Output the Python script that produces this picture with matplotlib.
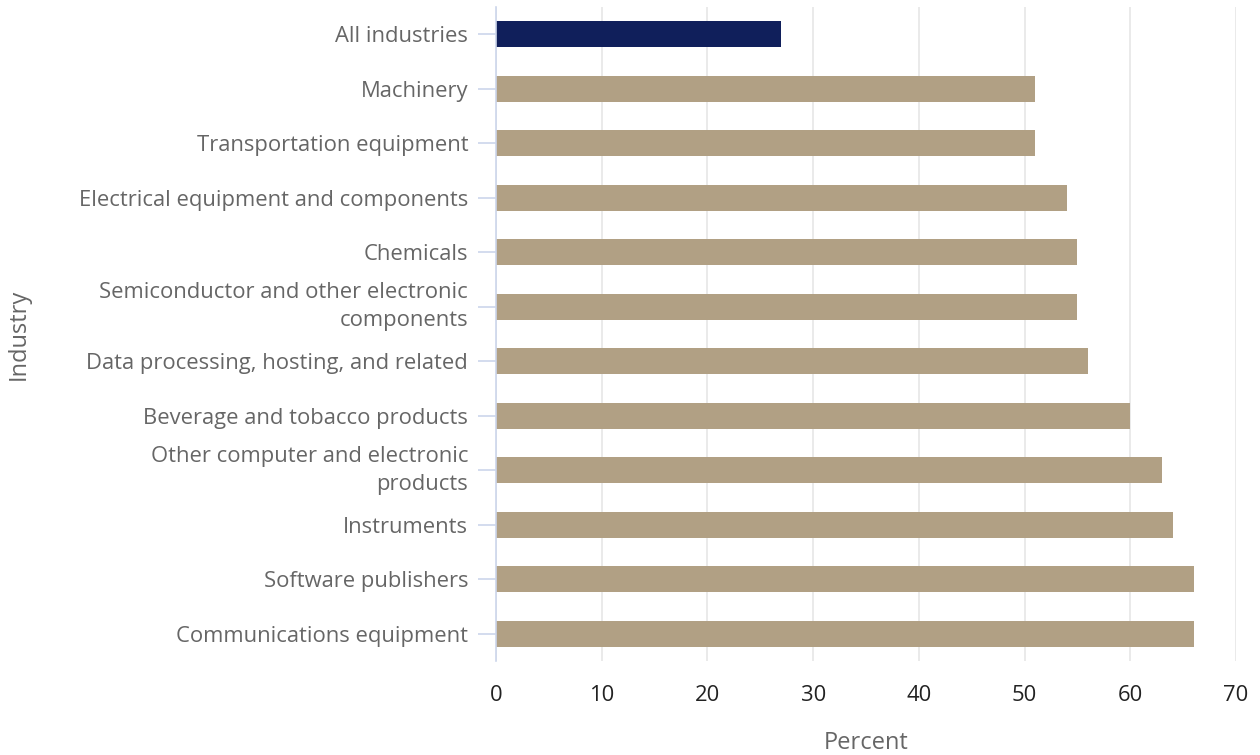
import matplotlib
matplotlib.use("Agg")
import matplotlib.pyplot as plt

plt.rcParams['font.family'] = ['Open Sans', 'DejaVu Sans']

categories = [
    "All industries",
    "Machinery",
    "Transportation equipment",
    "Electrical equipment and components",
    "Chemicals",
    "Semiconductor and other electronic\ncomponents",
    "Data processing, hosting, and related",
    "Beverage and tobacco products",
    "Other computer and electronic\nproducts",
    "Instruments",
    "Software publishers",
    "Communications equipment",
]
values = [27, 51, 51, 54, 55, 55, 56, 60, 63, 64, 66, 66]
colors = ["#101f5b"] + ["#b1a084"] * (len(values) - 1)
x_ticks = [0, 10, 20, 30, 40, 50, 60, 70]

fig = plt.figure(figsize=(12.6, 7.55), dpi=100)
ax = fig.add_axes([0.3936, 0.1245, 0.5874, 0.8662])

ypos = list(range(len(categories)))
ax.barh(ypos, values, height=0.48, color=colors, zorder=3)
ax.set_ylim(len(categories) - 0.5, -0.5)
ax.set_xlim(0, 70)
ax.set_yticks(ypos)
ax.set_yticklabels(categories, fontsize=15.8, color="#666666", ha="right",
                   linespacing=1.42)
for lbl in ax.get_yticklabels():
    if "\n" in lbl.get_text():
        lbl.set_verticalalignment("center")
ax.set_xticks(x_ticks)
ax.set_xticklabels([str(t) for t in x_ticks], fontsize=15.8, color="#222222")

ax.tick_params(axis="y", length=13, width=1.2, color="#ccd6eb", pad=7)
ax.tick_params(axis="x", length=0, pad=17)

ax.grid(axis="x", color="#e6e6e6", linewidth=1.2, zorder=0)
ax.grid(axis="y", visible=False)
for s in ["top", "right", "bottom"]:
    ax.spines[s].set_visible(False)
ax.spines["left"].set_color("#ccd6eb")
ax.spines["left"].set_linewidth(1.2)
ax.spines["left"].set_zorder(4)

ax.set_xlabel("Percent", fontsize=17, color="#666666")
ax.xaxis.set_label_coords(0.5, -0.107)
ax.set_ylabel("Industry", fontsize=17, color="#666666")
ax.yaxis.set_label_coords(-0.629, 0.5)

fig.savefig("out.png", dpi=100)
